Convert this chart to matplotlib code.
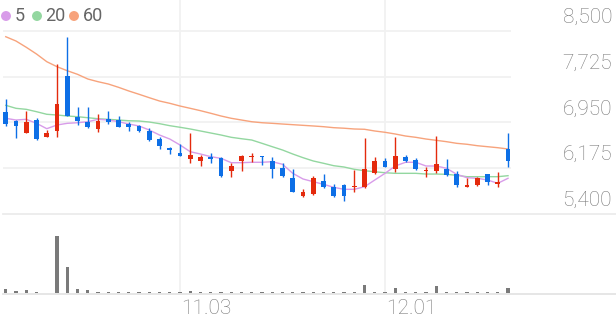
import numpy as np
import matplotlib
matplotlib.use('Agg')
import matplotlib.pyplot as plt
from matplotlib.lines import Line2D
from matplotlib.patches import Ellipse
import matplotlib.transforms as mtransforms

plt.rcParams['font.family'] = ['Roboto', 'DejaVu Sans']

# daily candles (open, high, low, close)
opens = [7120, 6980, 6780, 7000, 6710, 6810, 7740, 7050, 6960, 6840,
         7010, 7000, 6930, 6890, 6800, 6670, 6510, 6440, 6330, 6300,
         6370, 6350, 6120, 6300, 6360, 6390, 6300, 6180, 6010, 5700,
         5740, 5960, 5860, 5890, 5850, 5850, 6090, 6300, 6160, 6370,
         6310, 6120, 6130, 6170, 6070, 5860, 5890, 6070, 5910, 6500]
highs = [7350, 6990, 7140, 7020, 6820, 7940, 8390, 7220, 7210, 7090,
         7140, 7060, 6950, 6910, 6850, 6700, 6540, 6590, 6770, 6400,
         6430, 6360, 6260, 6400, 6430, 6390, 6370, 6260, 6160, 5820,
         6050, 6070, 5900, 5900, 6150, 6680, 6370, 6350, 6710, 6400,
         6350, 6200, 6720, 6340, 6120, 6010, 6020, 6080, 6110, 6780]
lows = [6890, 6690, 6780, 6650, 6700, 6700, 7060, 6900, 6850, 6790,
        6930, 6870, 6810, 6790, 6640, 6500, 6420, 6380, 6260, 6210,
        6260, 6020, 6020, 6130, 6280, 6230, 6010, 6030, 5770, 5690,
        5730, 5840, 5680, 5620, 5770, 5840, 6070, 6190, 6110, 6280,
        6150, 6030, 6100, 6050, 5850, 5850, 5880, 5890, 5860, 6200]
closes = [6920, 6890, 6960, 6670, 6780, 7260, 7060, 6970, 6880, 6970,
          6950, 6880, 6880, 6800, 6650, 6550, 6480, 6390, 6400, 6370,
          6330, 6050, 6220, 6380, 6380, 6360, 6170, 6050, 5780, 5780,
          6010, 5850, 5710, 5710, 5880, 6160, 6300, 6200, 6390, 6300,
          6170, 6140, 6250, 6060, 5890, 5890, 6010, 5950, 5940, 6300]
volumes = [200, 80, 130, 70, 20, 2850, 1280, 180, 130, 65,
           60, 60, 55, 55, 55, 55, 60, 70, 100, 55,
           50, 50, 50, 50, 50, 50, 50, 50, 50, 50,
           50, 50, 50, 50, 60, 400, 50, 50, 250, 50,
           50, 50, 370, 50, 50, 50, 50, 50, 50, 250]

# moving averages as drawn on the chart
ma5 = [7021, 6992, 7004, 6936, 6845, 6908, 6936, 6946, 6963, 7004,
       6992, 6963, 6924, 6891, 6823, 6738, 6670, 6569, 6455, 6416,
       6371, 6343, 6269, 6269, 6276, 6276, 6286, 6242, 6089, 5993,
       5947, 5903, 5852, 5818, 5818, 5862, 5976, 6089, 6213, 6276,
       6276, 6213, 6213, 6174, 6072, 6015, 6005, 5976, 5920, 6005]
ma20 = [7241, 7190, 7173, 7133, 7089, 7077, 7060, 7048, 7031, 7014,
        7004, 6992, 6980, 6975, 6958, 6930, 6896, 6869, 6840, 6806,
        6772, 6738, 6699, 6675, 6653, 6597, 6540, 6484, 6416, 6354,
        6298, 6259, 6218, 6196, 6157, 6133, 6116, 6099, 6089, 6089,
        6089, 6077, 6077, 6072, 6055, 6032, 6032, 6032, 6032, 6049]
ma60 = [8403, 8330, 8224, 8110, 7980, 7895, 7827, 7766, 7687, 7641,
        7602, 7546, 7484, 7428, 7370, 7314, 7275, 7229, 7190, 7150,
        7106, 7060, 7021, 6992, 6963, 6946, 6936, 6924, 6913, 6902,
        6891, 6879, 6862, 6853, 6840, 6835, 6806, 6784, 6755, 6721,
        6699, 6670, 6648, 6625, 6597, 6581, 6557, 6540, 6523, 6501]

price_ticks = [5400, 6175, 6950, 7725, 8500]
date_ticks = [17, 37]
date_labels = ['11.03', '12.01']
legend_labels = ['5', '20', '60']

UP = '#e42a0d'
DOWN = '#0d6fe6'
MA_COLORS = ['#d89ce9', '#93d7a0', '#f7a37c']
GRID = '#f1f1f1'
TXT = '#777777'

W, H = 616, 321
fig = plt.figure(figsize=(W / 100, H / 100), dpi=100)

def box(l, t, r, b):
    return [l / W, 1 - b / H, (r - l) / W, (b - t) / H]

ax = fig.add_axes(box(3, 0, 511, 214))
axv = fig.add_axes(box(3, 215, 511, 293))
for a in (ax, axv):
    a.set_axis_off()
    a.set_xlim(-0.27, 49.29)
ax.set_ylim(5400, 9025)
axv.set_ylim(0, 3900)

x = np.arange(len(closes))
o = np.array(opens)
c = np.array(closes)
colors = [UP if cc > oo else DOWN for oo, cc in zip(o, c)]

# grid
for v in price_ticks[1:]:
    ax.axhline(v, color=GRID, lw=1.3, zorder=0)
for i in date_ticks:
    ax.axvline(i, color=GRID, lw=1.3, zorder=0)
    axv.axvline(i, color=GRID, lw=1.3, zorder=0)
fig.add_artist(Line2D([3 / W, 1], [1 - 214 / H] * 2, color='#ececec', lw=1.3))
fig.add_artist(Line2D([3 / W, 1], [1 - 293.5 / H] * 2, color='#e4e4e4', lw=1.3))

# moving averages
for ma, col in zip([ma60, ma20, ma5], MA_COLORS[::-1]):
    ax.plot(x, ma, color=col, lw=1.0, zorder=2)

# candles
ax.vlines(x, lows, highs, colors=colors, lw=1.0, zorder=3)
bottoms = np.minimum(o, c)
heights = np.maximum(np.abs(c - o), 25)
ax.bar(x, heights, bottom=bottoms, width=0.48, color=colors, zorder=4)

# volume
axv.bar(x, volumes, width=0.32, color='#7a7a7a')

# price labels on the right
tr = mtransforms.blended_transform_factory(fig.transFigure, ax.transData)
for v in price_ticks:
    ax.text(612 / W, v + 13.5 * 3625 / 214, f'{v:,}', transform=tr, ha='right',
            va='center', fontsize=15, color=TXT, fontweight='light')

# date labels
trx = mtransforms.blended_transform_factory(ax.transData, fig.transFigure)
for i, lab in zip(date_ticks, date_labels):
    ax.text(i + 0.15, 1 - 309 / H, lab, transform=trx, ha='left', va='center',
            fontsize=15, color=TXT, fontweight='light')

# legend
lx = [6, 37, 74]
for px, lab, col in zip(lx, legend_labels, MA_COLORS):
    fig.add_artist(Ellipse((px / W, 1 - 16 / H), 8.5 / W, 8.5 / H, color=col,
                           transform=fig.transFigure))
    fig.text((px + 8.5) / W, 1 - 16 / H, lab, ha='left', va='center',
             fontsize=13, color='#666666')

fig.savefig('out.png', dpi=100)
